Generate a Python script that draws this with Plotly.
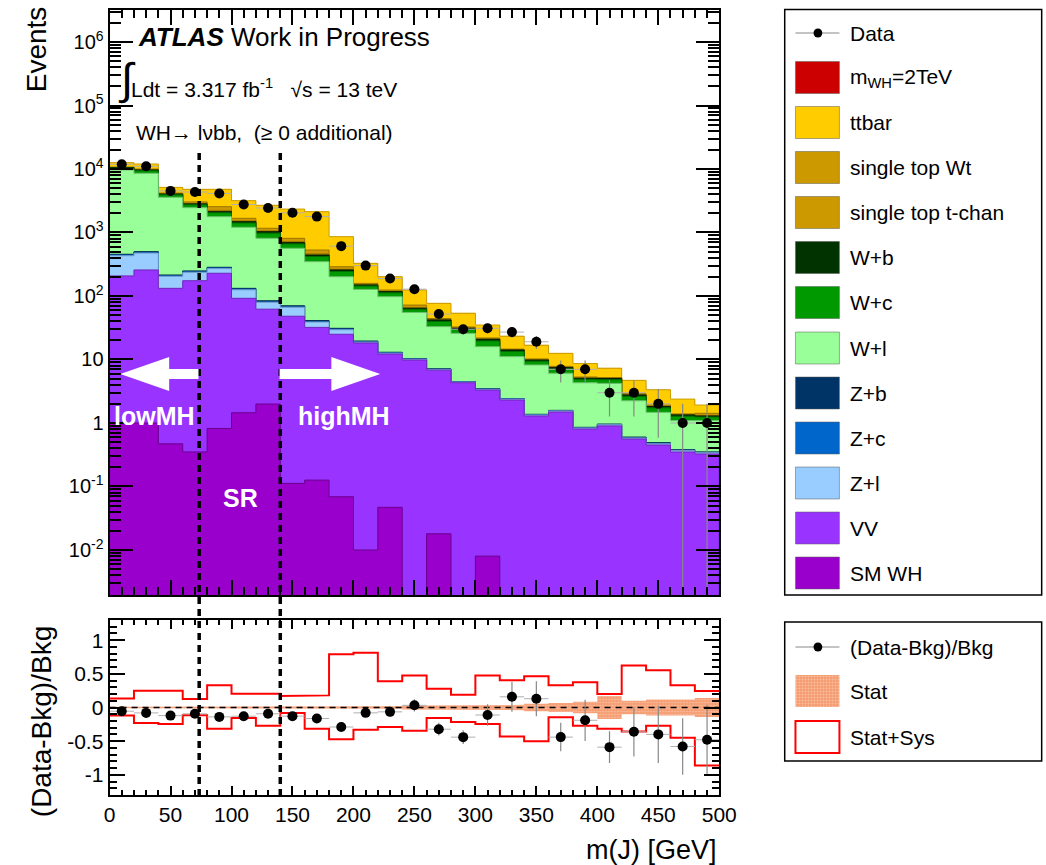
import numpy as np
import plotly.graph_objects as go

W, H = 1046, 865
FONT = "Liberation Sans, Arial, Helvetica, sans-serif"

# ---------------- binning: large-R jet mass, 20 GeV bins ----------------
bin_edges = list(range(0, 501, 20))
bin_centers = [e + 10 for e in bin_edges[:-1]]

# ---------------- observed events ----------------
data = [11870, 11040, 4520, 4340, 4120, 2760, 2430, 2040, 1780, 610, 301, 188, 128,
        52, 30, 31, 27, 19, 7, 7, 3, 3, 2, 1, 1]

# ---------------- stacked predictions (bottom -> top) ----------------
sm_wh = [1.0, 1.0, 0.47, 0.35, 0.82, 1.45, 1.99, 0.112, 0.126, 0.069, 0.010, 0.047, 0.0,
         0.018, 0.0, 0.008, 0.0, 0.0, 0.0, 0.0, 0.0, 0.0, 0.0, 0.0, 0.0]
vv = [206, 256, 131.5, 173.6, 227.2, 90.5, 60, 47.9, 31.9, 24.9, 18.2, 12.15, 9.8,
      6.78, 4.3, 3.29, 2.3, 1.29, 1.49, 0.805, 0.90, 0.56, 0.45, 0.35, 0.325]
z_l = [224, 217, 72, 62, 42, 33, 17.5, 18.5, 6.8, 4.4, 0.6, 0.4, 0.3,
       0.17, 0.12, 0.10, 0.08, 0.05, 0.06, 0.03, 0.04, 0.02, 0.02, 0.02, 0.015]
z_c = [14, 15, 6, 7, 8, 4, 2.5, 2, 1.2, 0.9, 0.4, 0.25, 0.12,
       0.09, 0.05, 0.04, 0.03, 0.02, 0.02, 0.01, 0.01, 0.01, 0.01, 0.005, 0.005]
z_b = [9, 10, 4, 5, 5, 3, 2, 1.5, 1, 0.7, 0.3, 0.15, 0.08,
       0.06, 0.03, 0.03, 0.02, 0.01, 0.01, 0.01, 0.01, 0.01, 0.01, 0.005, 0.005]
w_l = [9196, 8051, 3366, 2212, 1492, 1076, 726, 494, 306, 170, 107.5, 84.5, 44.7,
       25.8, 21.3, 12.44, 8.67, 6.83, 4.49, 3.445, 3.24, 1.64, 0.98, 0.71, 0.74]
w_c = [690, 820, 340, 270, 265, 203, 165, 96, 71, 42, 16.5, 14.5, 6.8,
       6.8, 3.9, 3.7, 2.25, 1.2, 1.02, 0.57, 0.6, 0.39, 0.26, 0.19, 0.15]
w_b = [230, 280, 110, 90, 88, 68, 55, 32, 24, 14, 5.5, 5, 2.2,
       2.2, 1.3, 1.2, 0.75, 0.4, 0.34, 0.19, 0.2, 0.13, 0.08, 0.06, 0.05]
stop_t = [30, 80, 35, 50, 100, 45, 31, 27, 20, 7, 2, 1.5, 2,
          0.5, 0.4, 0.25, 0.12, 0.1, 0.09, 0.06, 0.05, 0.04, 0.03, 0.01, 0.03]
stop_wt = [100, 260, 115, 160, 320, 148, 104, 90, 68, 25, 7, 5.5, 6,
           1.8, 1.1, 0.75, 0.38, 0.3, 0.28, 0.18, 0.15, 0.1, 0.08, 0.04, 0.1]
ttbar = [1860, 2010, 960, 1760, 2240, 1498, 1515, 1531, 1597, 570, 169, 77, 52,
         32.5, 21.1, 13.1, 8.7, 6.6, 4.7, 3.34, 2.1, 1.79, 1.41, 0.99, 0.5]
signal = [0, 0, 0, 0.1, 0.8, 1.5, 0.9, 0.2, 0.05, 0, 0, 0, 0,
          0, 0, 0, 0, 0, 0, 0, 0, 0, 0, 0, 0]

# ---------------- ratio-panel uncertainties (relative) ----------------
stat_err = [0.01, 0.01, 0.01, 0.01, 0.01, 0.01, 0.012, 0.012, 0.012, 0.015, 0.018, 0.02, 0.03,
            0.04, 0.04, 0.04, 0.04, 0.055, 0.067, 0.087, 0.17, 0.10, 0.12, 0.12, 0.14]
syst_up = [0.135, 0.25, 0.25, 0.125, 0.33, 0.205, 0.205, 0.17, 0.18, 0.79, 0.815, 0.39, 0.475,
           0.28, 0.19, 0.475, 0.405, 0.465, 0.33, 0.375, 0.2, 0.625, 0.555, 0.33, 0.245]
syst_dn = [-0.12, -0.23, -0.245, -0.115, -0.315, -0.155, -0.27, -0.08, -0.315, -0.47, -0.33, -0.29, -0.345,
           -0.155, -0.215, -0.245, -0.43, -0.5, -0.145, -0.27, -0.315, -0.355, -0.27, -0.45, -0.86]

# region boundaries in m(J)
region_edges = [73.5, 140]

# (name, values, fill colour, edge colour) from bottom of the stack to top
stack = [
    ("SM WH", sm_wh, "#9900CC", "#6a008e"),
    ("VV", vv, "#9933FF", "#6f24b8"),
    ("Z+l", z_l, "#99CCFF", "#6f9cc8"),
    ("Z+c", z_c, "#0066CC", "#004a94"),
    ("Z+b", z_b, "#003366", "#00203f"),
    ("W+l", w_l, "#99FF99", "#6fc06f"),
    ("W+c", w_c, "#009900", "#006d00"),
    ("W+b", w_b, "#003300", "#001a00"),
    ("single top t-chan", stop_t, "#CC9900", "#9a7400"),
    ("single top Wt", stop_wt, "#CC9900", "#9a7400"),
    ("ttbar", ttbar, "#FFCC00", "#c9a000"),
    ("m<sub>WH</sub>=2TeV", signal, "#CC0000", "rgba(0,0,0,0)"),
]

FLOOR = 1e-4


def step_xy(edges, vals):
    xs, ys = [], []
    for i, v in enumerate(vals):
        xs += [edges[i], edges[i + 1]]
        ys += [v, v]
    return xs, ys


def px(x):
    return x / W


def py(y):
    return 1 - y / H


fig = go.Figure()

# ---------------- main panel: cumulative stack, painted top-down ----------------
cum = np.zeros(len(bin_centers))
tops = []
for name, vals, fc, lc in stack:
    cum = cum + np.array(vals, dtype=float)
    tops.append((name, cum.copy(), fc, lc))

for name, top, fc, lc in reversed(tops):
    sx, sy = step_xy(bin_edges, np.maximum(top, FLOOR))
    xs = [bin_edges[0]] + sx + [bin_edges[-1]]
    ys = [FLOOR] + sy + [FLOOR]
    fig.add_trace(go.Scatter(
        x=xs, y=ys, mode="lines", fill="toself", fillcolor=fc,
        line=dict(color=lc, width=1), hoverinfo="skip", showlegend=False,
        xaxis="x", yaxis="y"))

data_arr = np.array(data, dtype=float)
err = np.sqrt(data_arr)
err_lo = np.minimum(err, data_arr * 0.9999)
fig.add_trace(go.Scatter(
    x=bin_centers, y=data, mode="markers",
    marker=dict(color="black", size=10),
    error_y=dict(type="data", array=err, arrayminus=err_lo, color="#888888", thickness=1.2, width=0),
    error_x=dict(type="constant", value=10, color="#b0b0b0", thickness=1, width=0),
    showlegend=False, hoverinfo="skip", xaxis="x", yaxis="y"))

# ---------------- ratio panel ----------------
bkg = np.zeros(len(bin_centers))
for name, vals, fc, lc in stack[:-1]:
    bkg = bkg + np.array(vals, dtype=float)
ratio = data_arr / bkg - 1
ratio_err = np.sqrt(data_arr) / bkg

STAT_PATTERN = dict(shape=".", bgcolor="#F59A6E", fgcolor="#FFE2D0", size=3, solidity=0.35)

ux, uy = step_xy(bin_edges, stat_err)
lx, ly = step_xy(bin_edges, [-s for s in stat_err])
fig.add_trace(go.Scatter(
    x=ux + lx[::-1], y=uy + ly[::-1], mode="lines", fill="toself",
    fillcolor="#F59A6E", line=dict(width=0), fillpattern=STAT_PATTERN,
    hoverinfo="skip", showlegend=False, xaxis="x2", yaxis="y2"))

for band in (syst_up, syst_dn):
    sx, sy = step_xy(bin_edges, band)
    fig.add_trace(go.Scatter(
        x=sx, y=sy, mode="lines", line=dict(color="#FF0000", width=2),
        hoverinfo="skip", showlegend=False, xaxis="x2", yaxis="y2"))

fig.add_trace(go.Scatter(
    x=[0, 500], y=[0, 0], mode="lines", line=dict(color="black", width=1.5, dash="6px,5px"),
    hoverinfo="skip", showlegend=False, xaxis="x2", yaxis="y2"))

fig.add_trace(go.Scatter(
    x=bin_centers, y=ratio, mode="markers", marker=dict(color="black", size=10),
    error_y=dict(type="data", array=ratio_err, color="#888888", thickness=1.2, width=0),
    error_x=dict(type="constant", value=10, color="#b0b0b0", thickness=1, width=0),
    hoverinfo="skip", showlegend=False, xaxis="x2", yaxis="y2"))

# ---------------- legend swatch with the Stat pattern (pixel overlay axes) ----------------
sw_x0, sw_x1 = 808, 853
fig.add_trace(go.Scatter(
    x=[sw_x0, sw_x1, sw_x1, sw_x0, sw_x0], y=[675, 675, 707, 707, 675],
    mode="lines", fill="toself", fillcolor="#F59A6E", line=dict(width=0),
    fillpattern=STAT_PATTERN, hoverinfo="skip", showlegend=False, xaxis="x3", yaxis="y3"))

# ---------------- axes ----------------
xdom = [px(106), px(730)]
main_tickvals = [1e-2, 1e-1, 1, 10, 1e2, 1e3, 1e4, 1e5, 1e6]
main_ticktext = ["10<sup>-2</sup>", "10<sup>-1</sup>", "1", "10", "10<sup>2</sup>",
                 "10<sup>3</sup>", "10<sup>4</sup>", "10<sup>5</sup>", "10<sup>6</sup>"]
minor_vals = [m * 10.0 ** k for k in range(-3, 7) for m in range(2, 10)]
ratio_tickvals = [-1, -0.5, 0, 0.5, 1]
ratio_ticktext = ["-1", "-0.5", "0", "0.5", "1"]
xticks = [0, 50, 100, 150, 200, 250, 300, 350, 400, 450, 500]

axis_common = dict(showline=True, linecolor="black", linewidth=2, mirror="allticks",
                   ticks="inside", tickcolor="black", tickwidth=1.5, showgrid=False,
                   zeroline=False, tickfont=dict(family=FONT, size=20, color="black"))

fig.update_layout(
    width=W, height=H, autosize=False, margin=dict(l=0, r=0, t=0, b=0),
    paper_bgcolor="white", plot_bgcolor="rgba(0,0,0,0)",
    showlegend=False,
    xaxis=dict(domain=xdom, range=[0, 500], anchor="y", showticklabels=False,
               tickvals=xticks, ticklen=15,
               minor=dict(dtick=10, tick0=0, ticks="inside", ticklen=8, tickcolor="black", tickwidth=1.5),
               **axis_common),
    yaxis=dict(domain=[py(595), py(10)], type="log", range=[-2.709, 6.504], anchor="x",
               tickvals=main_tickvals, ticktext=main_ticktext, ticklen=23,
               minor=dict(tickvals=minor_vals, ticks="inside", ticklen=11, tickcolor="black", tickwidth=1.5),
               **axis_common),
    xaxis2=dict(domain=xdom, range=[0, 500], anchor="y2",
                tickvals=xticks, ticktext=[str(v) for v in xticks], ticklen=9,
                minor=dict(dtick=10, tick0=0, ticks="inside", ticklen=5, tickcolor="black", tickwidth=1.5),
                **{**axis_common, "tickfont": dict(family=FONT, size=21, color="black")}),
    yaxis2=dict(domain=[py(795), py(620)], range=[-1.3, 1.3], anchor="x2",
                tickvals=ratio_tickvals, ticktext=ratio_ticktext, ticklen=15,
                minor=dict(dtick=0.1, tick0=0, ticks="inside", ticklen=7, tickcolor="black", tickwidth=1.5),
                **{**axis_common, "tickfont": dict(family=FONT, size=21, color="black")}),
    xaxis3=dict(domain=[0, 1], range=[0, W], visible=False, anchor="y3", fixedrange=True),
    yaxis3=dict(domain=[0, 1], range=[H, 0], visible=False, anchor="x3", fixedrange=True),
)

shapes = []
annotations = []

# region boundaries (dashed, across both panels)
for xe in region_edges:
    shapes.append(dict(type="line", xref="x", yref="paper", x0=xe, x1=xe,
                       y0=py(153), y1=py(800), line=dict(color="black", width=3.5, dash="7px,5px"),
                       layer="above"))

# white arrows marking the side-bands
left_arrow = [(117, 374), (167, 357), (167, 369), (197, 369), (197, 379), (167, 379), (167, 391)]
right_arrow = [(280, 369), (333, 369), (333, 357), (383, 374), (333, 391), (333, 379), (280, 379)]
for pts in (left_arrow, right_arrow):
    path = "M " + " L ".join(f"{px(a):.5f},{py(b):.5f}" for a, b in pts) + " Z"
    shapes.append(dict(type="path", xref="paper", yref="paper", path=path,
                       fillcolor="white", line=dict(width=0), layer="above"))


def add_text(text, x, y, size, xanchor="left", color="black", angle=0):
    annotations.append(dict(text=text, x=px(x), y=py(y), xref="paper", yref="paper",
                            xanchor=xanchor, yanchor="middle", showarrow=False, textangle=angle,
                            font=dict(family=FONT, size=size, color=color)))


add_text("<b>lowMH</b>", 152, 416, 25, "center", "white")
add_text("<b>highMH</b>", 346, 416, 25, "center", "white")
add_text("<b>SR</b>", 240, 498, 25, "center", "white")

# plot labels
add_text("<b><i>ATLAS</i></b> Work in Progress", 133, 37, 26)
add_text("\u222b", 113, 79, 44)
add_text("Ldt = 3.317 fb<sup>-1</sup>   \u221as = 13 teV", 126, 88, 21)
add_text("WH\u2192 l\u03bdbb,  (\u2265 0 additional)", 131, 133, 21)

# axis titles
add_text("Events", 31, 49, 28, "center", angle=-90)
add_text("(Data-Bkg)/Bkg", 36, 722, 28, "center", angle=-90)
annotations.append(dict(text="m(J) [GeV]", x=px(730), y=py(850), xref="paper", yref="paper",
                        xanchor="right", yanchor="middle", showarrow=False,
                        font=dict(family=FONT, size=27, color="black")))

# ---------------- legend boxes ----------------
shapes.append(dict(type="rect", xref="paper", yref="paper", x0=px(797), x1=px(1060),
                   y0=py(595), y1=py(9.5), line=dict(color="black", width=1.5), fillcolor="white",
                   layer="below"))
shapes.append(dict(type="rect", xref="paper", yref="paper", x0=px(797), x1=px(1060),
                   y0=py(761), y1=py(622), line=dict(color="black", width=1.5), fillcolor="white",
                   layer="below"))

TEXT_X = 862
# data entry
shapes.append(dict(type="line", xref="paper", yref="paper", x0=px(sw_x0), x1=px(sw_x1),
                   y0=py(33), y1=py(33), line=dict(color="#888888", width=1)))
shapes.append(dict(type="circle", xref="paper", yref="paper", x0=px(826.5), x1=px(835.5),
                   y0=py(37.5), y1=py(28.5), fillcolor="black", line=dict(width=0)))
add_text("Data", TEXT_X, 33, 21)

legend_y = [77.5, 122.5, 167.5, 212.5, 257.5, 302.5, 348, 393, 438, 483, 528, 573]
for (name, vals, fc, lc), yc in zip(reversed(stack), legend_y):
    shapes.append(dict(type="rect", xref="paper", yref="paper", x0=px(sw_x0), x1=px(sw_x1),
                       y0=py(yc + 16), y1=py(yc - 16), fillcolor=fc,
                       line=dict(color="rgba(90,90,90,0.5)", width=1)))
    add_text(name, TEXT_X, yc, 21)

# ratio legend
shapes.append(dict(type="line", xref="paper", yref="paper", x0=px(sw_x0), x1=px(sw_x1),
                   y0=py(647), y1=py(647), line=dict(color="#888888", width=1)))
shapes.append(dict(type="circle", xref="paper", yref="paper", x0=px(826.5), x1=px(835.5),
                   y0=py(651.5), y1=py(642.5), fillcolor="black", line=dict(width=0)))
add_text("(Data-Bkg)/Bkg", TEXT_X, 647, 21)
add_text("Stat", TEXT_X, 691, 21)
shapes.append(dict(type="rect", xref="paper", yref="paper", x0=px(sw_x0), x1=px(sw_x1),
                   y0=py(753), y1=py(721), fillcolor="white", line=dict(color="#FF0000", width=2)))
add_text("Stat+Sys", TEXT_X, 737, 21)

fig.update_layout(shapes=shapes, annotations=annotations)

fig.write_html("out.html")
